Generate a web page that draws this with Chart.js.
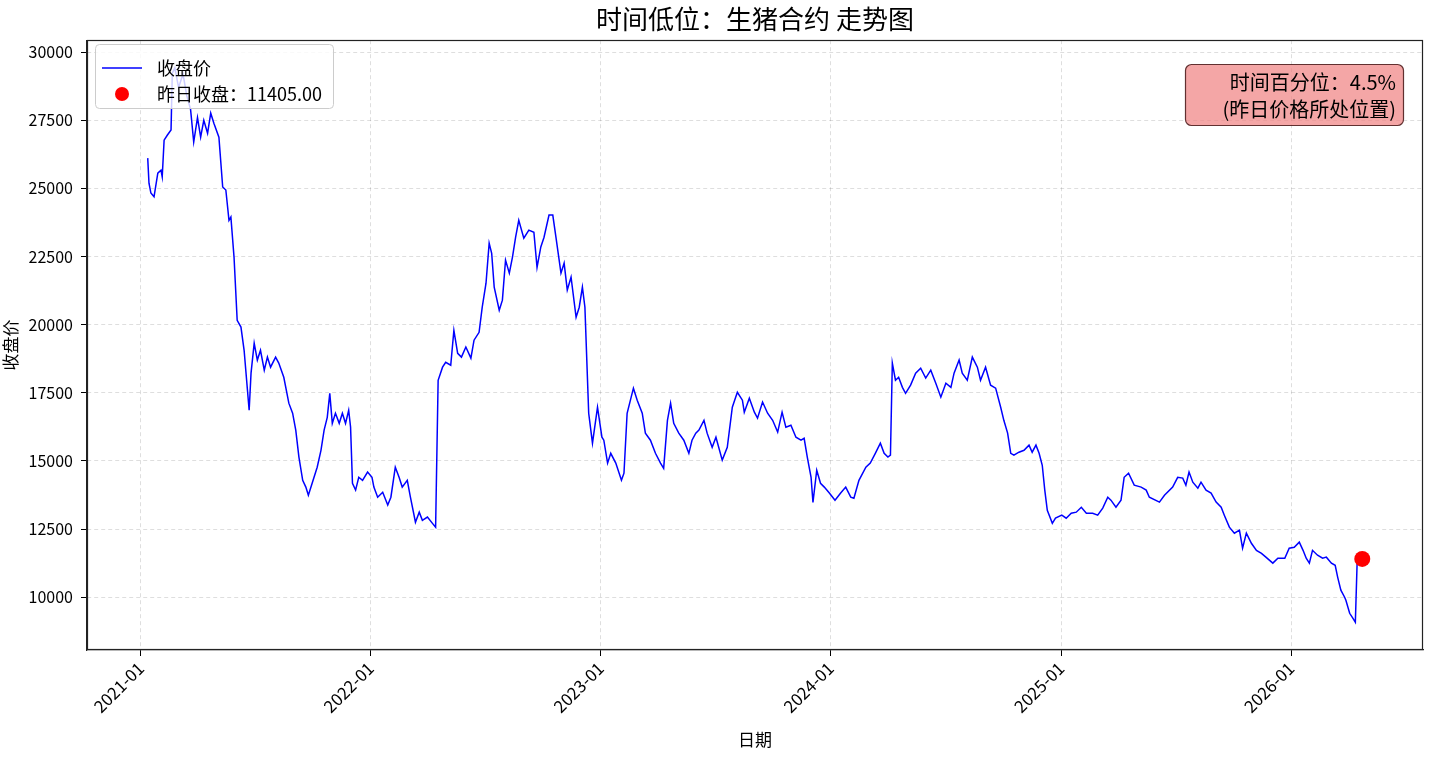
<!DOCTYPE html>
<html>
<head>
<meta charset="utf-8">
<script src="https://cdn.jsdelivr.net/npm/chart.js@4.4.1/dist/chart.umd.min.js"></script>
<style>
  html, body { margin: 0; padding: 0; background: #fff; }
  #wrap { width: 1440px; height: 760px; }
</style>
</head>
<body>
<div id="wrap"><canvas id="priceChart" width="1440" height="760"></canvas></div>
<script>
// 生猪合约 收盘价
const dates = [
  '2021-01-12','2021-01-14','2021-01-17','2021-01-22','2021-01-28','2021-02-02','2021-02-04','2021-02-07','2021-02-12','2021-02-18',
  '2021-02-20','2021-02-24','2021-03-02','2021-03-09','2021-03-15','2021-03-21','2021-03-26','2021-04-01','2021-04-06','2021-04-11',
  '2021-04-17','2021-04-22','2021-04-27','2021-05-05','2021-05-11','2021-05-16','2021-05-21','2021-05-24','2021-05-29','2021-06-03',
  '2021-06-09','2021-06-14','2021-06-22','2021-06-25','2021-06-30','2021-07-05','2021-07-10','2021-07-16','2021-07-21','2021-07-26',
  '2021-08-03','2021-08-08','2021-08-16','2021-08-24','2021-08-30','2021-09-04','2021-09-09','2021-09-15','2021-09-20','2021-09-24',
  '2021-09-30','2021-10-08','2021-10-14','2021-10-19','2021-10-24','2021-10-28','2021-11-01','2021-11-06','2021-11-12','2021-11-17',
  '2021-11-22','2021-11-27','2021-11-30','2021-12-03','2021-12-08','2021-12-13','2021-12-19','2021-12-27',
  '2022-01-03','2022-01-06','2022-01-12','2022-01-20','2022-01-28','2022-02-02','2022-02-09','2022-02-15','2022-02-20','2022-02-28',
  '2022-03-05','2022-03-13','2022-03-19','2022-03-24','2022-04-01','2022-04-09','2022-04-14','2022-04-18','2022-04-25','2022-04-30',
  '2022-05-08','2022-05-13','2022-05-19','2022-05-25','2022-06-01','2022-06-09','2022-06-14','2022-06-22','2022-06-27','2022-07-03',
  '2022-07-08','2022-07-12','2022-07-16','2022-07-24','2022-07-29','2022-08-03','2022-08-09','2022-08-14','2022-08-19','2022-08-24',
  '2022-09-01','2022-09-09','2022-09-17','2022-09-22','2022-09-28','2022-10-03','2022-10-11','2022-10-17','2022-10-22','2022-10-30',
  '2022-11-04','2022-11-09','2022-11-15','2022-11-23','2022-11-28','2022-12-03','2022-12-07','2022-12-13','2022-12-19','2022-12-27',
  '2023-01-03','2023-01-06','2023-01-12','2023-01-17','2023-01-25','2023-02-03','2023-02-07','2023-02-12','2023-02-22','2023-02-28',
  '2023-03-08','2023-03-13','2023-03-21','2023-03-29','2023-04-06','2023-04-11','2023-04-17','2023-04-22','2023-04-27','2023-05-05',
  '2023-05-13','2023-05-21','2023-05-26','2023-06-01','2023-06-06','2023-06-14','2023-06-19','2023-06-27','2023-07-03','2023-07-13',
  '2023-07-21','2023-07-29','2023-08-06','2023-08-14','2023-08-17','2023-08-25','2023-09-02','2023-09-07','2023-09-15','2023-09-23',
  '2023-10-01','2023-10-09','2023-10-16','2023-10-22','2023-10-30','2023-11-07','2023-11-15','2023-11-20','2023-11-25','2023-12-01',
  '2023-12-04','2023-12-10','2023-12-16','2023-12-22','2023-12-30',
  '2024-01-08','2024-01-17','2024-01-25','2024-02-02','2024-02-07','2024-02-15','2024-02-26','2024-03-04','2024-03-12','2024-03-20',
  '2024-03-26','2024-04-01','2024-04-05','2024-04-08','2024-04-13','2024-04-18','2024-04-24','2024-04-29','2024-05-07','2024-05-15',
  '2024-05-23','2024-05-31','2024-06-08','2024-06-16','2024-06-24','2024-07-02','2024-07-10','2024-07-15','2024-07-23','2024-07-28',
  '2024-08-05','2024-08-13','2024-08-21','2024-08-26','2024-09-03','2024-09-11','2024-09-19','2024-09-27','2024-10-02','2024-10-08',
  '2024-10-13','2024-10-18','2024-10-26','2024-11-03','2024-11-11','2024-11-16','2024-11-22','2024-11-27','2024-12-02','2024-12-06',
  '2024-12-10','2024-12-18','2024-12-23',
  '2025-01-02','2025-01-09','2025-01-17','2025-01-25','2025-02-02','2025-02-10','2025-02-20','2025-02-28','2025-03-08','2025-03-16',
  '2025-03-21','2025-03-29','2025-04-06','2025-04-11','2025-04-18','2025-04-27','2025-05-08','2025-05-16','2025-05-21','2025-06-06',
  '2025-06-14','2025-06-27','2025-07-05','2025-07-13','2025-07-18','2025-07-23','2025-07-29','2025-08-06','2025-08-11','2025-08-19',
  '2025-08-27','2025-09-04','2025-09-12','2025-09-17','2025-09-25','2025-10-03','2025-10-11','2025-10-16','2025-10-22','2025-10-30',
  '2025-11-07','2025-11-15','2025-11-22','2025-12-03','2025-12-11','2025-12-22','2025-12-29',
  '2026-01-06','2026-01-14','2026-01-20','2026-01-25','2026-01-30','2026-02-04','2026-02-12','2026-02-20','2026-02-26','2026-03-06',
  '2026-03-12','2026-03-16','2026-03-21','2026-03-27','2026-03-29','2026-04-04','2026-04-09','2026-04-13','2026-04-16'
];
const closes = [
  26110,25190,24830,24690,25560,25670,25420,26770,26950,27140,
  29230,29420,28700,29200,28400,27900,26700,27600,26880,27500,
  27020,27760,27390,26880,25050,24940,23830,23950,22480,20160,
  19910,19060,16860,18220,19320,18700,19060,18330,18810,18440,
  18810,18590,18070,17120,16750,16130,15140,14290,14040,13740,
  14180,14770,15390,16130,16600,17480,16380,16750,16380,16750,
  16380,16860,16240,14180,13930,14400,14290,14590,
  14400,14040,13670,13850,13380,13670,14770,14400,14040,14290,
  13670,12750,13120,12820,12940,12710,12570,17960,18440,18620,
  18510,19790,18950,18810,19180,18770,19430,19720,20640,21520,
  22990,22620,21380,20530,20900,22370,21890,22480,23210,23830,
  23170,23470,23390,22100,22850,23200,24020,24020,23210,21890,
  22260,21270,21740,20270,20640,21380,20640,16750,15650,16970,
  15870,15760,14920,15280,14920,14290,14550,16750,17670,17230,
  16750,16020,15760,15280,14920,14730,16490,17120,16380,16020,
  15760,15280,15760,16020,16130,16490,16020,15500,15870,15030,
  15500,16970,17520,17230,16790,17300,16790,16570,17160,16750,
  16490,16060,16790,16240,16310,15870,15760,15830,15140,14400,
  13480,14660,14180,14040,13820,
  13560,13820,14040,13670,13630,14290,14770,14920,15280,15650,
  15280,15140,15210,18590,17960,18070,17700,17480,17780,18220,
  18400,18040,18330,17850,17340,17850,17700,18220,18700,18220,
  17960,18810,18440,17960,18440,17780,17670,16970,16490,16020,
  15280,15210,15320,15390,15580,15320,15580,15280,14840,13930,
  13190,12710,12900,
  13010,12900,13080,13120,13300,13080,13080,13010,13270,13670,
  13560,13300,13560,14400,14550,14110,14040,13930,13670,13490,
  13740,14040,14400,14370,14110,14590,14220,14000,14220,13930,
  13820,13490,13300,13010,12570,12350,12460,11800,12350,11980,
  11720,11610,11470,11250,11430,11430,11800,
  11830,12020,11720,11430,11250,11720,11540,11430,11470,11250,
  11170,10730,10260,10000,9890,9410,9230,9080,11405
];
const lastDate = '2026-04-24';
const lastClose = 11405.00;
const timePercentile = 4.5;
const yTickValues = [10000, 12500, 15000, 17500, 20000, 22500, 25000, 27500, 30000];
const xTickYears = [2021, 2022, 2023, 2024, 2025, 2026];

const FONT = '"Noto Sans CJK SC", "Noto Sans", sans-serif';
const toMs = (s) => Date.parse(s + 'T00:00:00Z');

Chart.defaults.color = '#000';
Chart.defaults.font.family = FONT;

// matplotlib style 5% margins
const xs = dates.map(toMs).concat(toMs(lastDate));
const xPad = (Math.max(...xs) - Math.min(...xs)) * 0.05;
const ys = closes.concat(lastClose);
const yPad = (Math.max(...ys) - Math.min(...ys)) * 0.05;

const frameAndNotes = {
  id: 'frameAndNotes',
  afterDraw(chart) {
    const { ctx, chartArea: a } = chart;
    ctx.save();
    // axes frame
    ctx.strokeStyle = '#222';
    ctx.lineWidth = 1.2;
    ctx.strokeRect(Math.round(a.left) + 0.5, Math.round(a.top) + 0.5,
      Math.round(a.right - a.left) - 1, Math.round(a.bottom - a.top) - 1);

    // legend
    ctx.beginPath();
    ctx.roundRect(95.5, 44.5, 238, 64, 4);
    ctx.fillStyle = 'rgba(255,255,255,0.8)';
    ctx.fill();
    ctx.strokeStyle = '#cccccc';
    ctx.lineWidth = 1;
    ctx.stroke();
    ctx.beginPath();
    ctx.moveTo(102, 68);
    ctx.lineTo(142, 68);
    ctx.strokeStyle = '#0000ff';
    ctx.lineWidth = 1.5;
    ctx.stroke();
    ctx.beginPath();
    ctx.arc(122, 94, 7, 0, Math.PI * 2);
    ctx.fillStyle = '#ff0000';
    ctx.fill();
    ctx.fillStyle = '#000';
    ctx.font = '18px ' + FONT;
    ctx.textBaseline = 'middle';
    ctx.textAlign = 'left';
    ctx.fillText('收盘价', 157, 68);
    ctx.fillText('昨日收盘：' + lastClose.toFixed(2), 157, 94);

    // percentile note
    ctx.beginPath();
    ctx.roundRect(1185.5, 64.5, 218, 61, 6);
    ctx.fillStyle = 'rgba(240,128,128,0.7)';
    ctx.fill();
    ctx.strokeStyle = 'rgba(70,20,20,0.85)';
    ctx.lineWidth = 1.2;
    ctx.stroke();
    ctx.fillStyle = '#000';
    ctx.font = '20px ' + FONT;
    ctx.textAlign = 'right';
    ctx.fillText('时间百分位：' + timePercentile.toFixed(1) + '%', 1396, 82);
    ctx.fillText('(昨日价格所处位置)', 1396, 109);
    ctx.restore();
  }
};

new Chart(document.getElementById('priceChart'), {
  type: 'line',
  data: {
    datasets: [
      {
        type: 'scatter',
        label: '昨日收盘',
        data: [{ x: toMs(lastDate), y: lastClose }],
        backgroundColor: '#ff0000',
        borderWidth: 0,
        pointRadius: 8,
        order: 0,
      },
      {
        label: '收盘价',
        data: dates.map((d, i) => ({ x: toMs(d), y: closes[i] })),
        borderColor: '#0000ff',
        borderWidth: 1.5,
        pointRadius: 0,
        tension: 0,
        fill: false,
        order: 1,
      },
    ],
  },
  options: {
    responsive: false,
    animation: false,
    devicePixelRatio: 1,
    layout: { padding: { top: 0, left: 0, right: 17, bottom: 0 } },
    plugins: {
      legend: { display: false },
      tooltip: { enabled: false },
      title: {
        display: true,
        text: '时间低位：生猪合约 走势图',
        fullSize: false,
        font: { size: 26, weight: 'normal' },
        padding: { top: 4, bottom: 5 },
      },
    },
    scales: {
      x: {
        type: 'linear',
        min: Math.min(...xs) - xPad,
        max: Math.max(...xs) + xPad,
        afterBuildTicks: (s) => { s.ticks = xTickYears.map((y) => ({ value: Date.UTC(y, 0, 1) })); },
        afterFit: (s) => { s.height = 110; },
        ticks: {
          autoSkip: false,
          minRotation: 45,
          maxRotation: 45,
          padding: 2,
          font: { size: 17 },
          callback: (v) => new Date(v).getUTCFullYear() + '-01',
        },
        grid: { color: 'rgba(0,0,0,0.13)', tickColor: '#000', tickLength: 6 },
        border: { color: '#222', width: 1.2, dash: [4, 3] },
        title: { display: true, text: '日期', font: { size: 17 }, padding: { top: 2, bottom: 10 } },
      },
      y: {
        min: Math.min(...ys) - yPad,
        max: Math.max(...ys) + yPad,
        afterBuildTicks: (s) => { s.ticks = yTickValues.map((v) => ({ value: v })); },
        afterFit: (s) => { s.width = 87; },
        ticks: { padding: 8, font: { size: 16 }, callback: (v) => String(v) },
        grid: { color: 'rgba(0,0,0,0.13)', tickColor: '#000', tickLength: 6 },
        border: { color: '#222', width: 1.2, dash: [4, 3] },
        title: { display: true, text: '收盘价', font: { size: 17 }, padding: { top: 0, bottom: 0 } },
      },
    },
  },
  plugins: [frameAndNotes],
});
</script>
</body>
</html>
